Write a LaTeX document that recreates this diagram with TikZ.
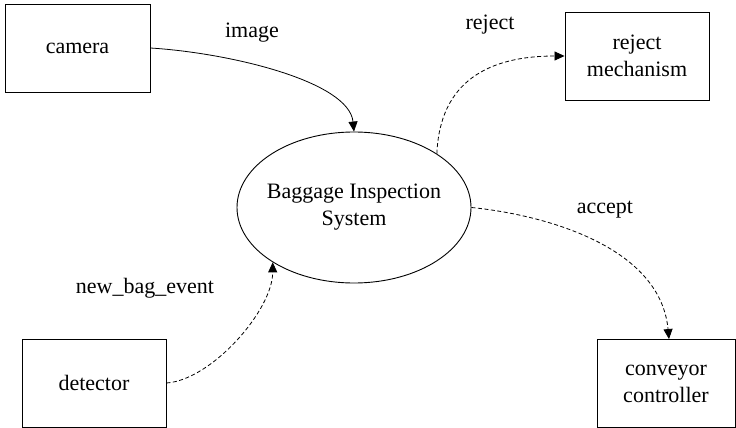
\documentclass[tikz,border=0pt]{standalone}
\usepackage{fontspec}
\setmainfont{Liberation Serif}
\usetikzlibrary{shapes.geometric,arrows.meta}
\begin{document}
\begin{tikzpicture}[x=1pt,y=-1pt,
  every node/.style={font=\fontsize{22}{27}\selectfont, inner sep=0pt},
  box/.style={draw, line width=0.9pt, rectangle, align=center},
  proc/.style={draw, line width=0.9pt, ellipse, align=center, inner xsep=-30pt, minimum width=234pt, minimum height=151pt},
  flow/.style={line width=0.8pt, -{Triangle[length=10pt,width=9pt]}},
  dflow/.style={flow, dash pattern=on 4pt off 2.5pt},
  lbl/.style={anchor=center}]
\useasboundingbox (0,0) rectangle (736,428);
\node[box, minimum width=145pt, minimum height=88pt] (cam) at (77.5,48) {camera};
\node[box, minimum width=144pt, minimum height=88pt] (rm) at (637,56) {reject\\mechanism};
\node[box, minimum width=144pt, minimum height=88pt] (det) at (94,383) {detector};
\node[box, minimum width=138pt, minimum height=88pt] (cc) at (666,383.5) {conveyor\\controller};
\node[proc] (bis) at (354,207.5) {Baggage Inspection\\System};
\node[lbl] (limg) at (252,33) {image};
\node[lbl] (lrej) at (490,25) {reject};
\node[lbl] (lacc) at (605,210) {accept};
\node[lbl] (lnb) at (145,288) {new\_bag\_event};
\draw[flow] (cam.east) .. controls +(80,5) and +(-5,-50) .. (bis.north);
\draw[dflow] (bis.33) .. controls +(3,-73) and +(-75,0) .. (rm.west);
\draw[dflow] (bis.east) .. controls +(70,7) and +(-9,-94) .. ([xshift=3pt]cc.north);
\draw[dflow] (det.east) .. controls +(45,-3) and +(0,48) .. (bis.214);
\end{tikzpicture}
\end{document}
